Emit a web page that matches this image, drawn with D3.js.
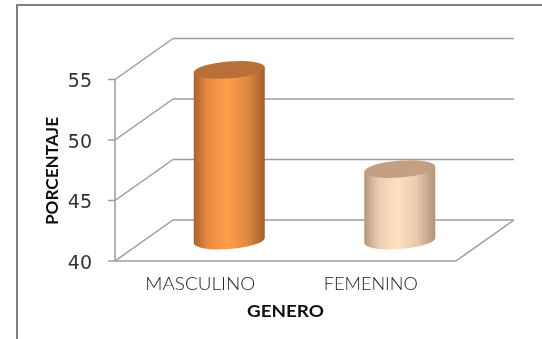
<!DOCTYPE html>
<html><head><meta charset="utf-8">
<script src="https://cdnjs.cloudflare.com/ajax/libs/d3/7.8.5/d3.min.js"></script>
<style>html,body{margin:0;padding:0;background:#fff}svg{display:block}</style>
</head><body><div id="c"></div>
<script>
const categories = ["MASCULINO", "FEMENINO"];
const values = [54.1, 45.9];
const yTicks = [40, 45, 50, 55];
const sideColors = [["#A9622C", "#E98C42", "#FF9E4A", "#E08A42", "#A45E2A"], ["#B39780", "#EBCDB0", "#FFE1C2", "#E6C8AC", "#AF9278"]];
const topColors = ["#B96F38", "#C3A083"];
const xTitle = "GENERO";
const yTitle = "PORCENTAJE";

const W = 542, H = 339, dx = 58, dy = -41, grid = "#9c9c9c";
const svg = d3.select("#c").append("svg").attr("width", W).attr("height", H);
const defs = svg.append("defs");
defs.append("filter").attr("id", "soft").append("feGaussianBlur").attr("stdDeviation", 0.35);
const y = d3.scaleLinear().domain([40, 55]).range([261, 79.5]);
const x = d3.scaleBand().domain(categories).range([115, 456]);
const ff = "'DejaVu Sans', sans-serif", ft = "Lato, sans-serif";

const root = svg.append("g").attr("filter", "url(#soft)");
root.append("rect").attr("x", 17).attr("y", 5).attr("width", 560).attr("height", 360)
  .attr("fill", "#fff").attr("stroke", "#808080").attr("stroke-width", 2);

const g = root.append("g").attr("fill", "none").attr("stroke", grid).attr("stroke-width", 1.5);
yTicks.forEach(t => {
  g.append("line").attr("x1", 115 + dx).attr("x2", 456 + dx).attr("y1", y(t) + dy).attr("y2", y(t) + dy);
  g.append("line").attr("x1", 115).attr("x2", 115 + dx).attr("y1", y(t)).attr("y2", y(t) + dy);
  g.append("line").attr("x1", 108).attr("x2", 115).attr("y1", y(t)).attr("y2", y(t));
});
g.append("line").attr("x1", 115).attr("x2", 115).attr("y1", y(40)).attr("y2", y(55));
g.append("line").attr("x1", 115).attr("x2", 456).attr("y1", y(40)).attr("y2", y(40));
g.append("line").attr("x1", 456).attr("x2", 456 + dx).attr("y1", y(40)).attr("y2", y(40) + dy);

const hw = 35.5, ry = 8.5, tilt = -4.5;
categories.forEach((c, i) => {
  const cx = x(c) + x.bandwidth() / 2 + dx / 2;
  const base = y(40) + dy / 2, top = y(values[i]) + dy / 2;
  const gr = defs.append("linearGradient").attr("id", "side" + i);
  [0, 0.2, 0.47, 0.75, 1].forEach((o, k) => gr.append("stop")
    .attr("offset", o).attr("stop-color", sideColors[i][k]));
  const slope = Math.tan(tilt * Math.PI / 180) * hw;
  const a = 35.6, b = ry;
  const bar = root.append("g");
  bar.append("path").attr("d",
    `M${cx - hw},${top - slope} L${cx + hw},${top + slope} L${cx + hw},${base + slope} ` +
    `A${a},${b} ${tilt} 0 1 ${cx - hw},${base - slope} Z`)
    .attr("fill", `url(#side${i})`);
  bar.append("ellipse").attr("cx", cx).attr("cy", top).attr("rx", a).attr("ry", b)
    .attr("transform", `rotate(${tilt} ${cx} ${top})`).attr("fill", topColors[i]);
});

root.append("g").selectAll("text").data(yTicks).join("text")
  .attr("x", 92).attr("y", d => y(d) + 7.5).attr("text-anchor", "end")
  .attr("font-family", ff).attr("font-size", 19).attr("fill", "#333")
  .text(d => d);

root.append("g").selectAll("text").data(categories).join("text")
  .attr("x", d => x(d) + x.bandwidth() / 2).attr("y", 290).attr("text-anchor", "middle")
  .attr("font-family", ft).attr("font-weight", 300).attr("font-size", 17.5).attr("fill", "#222")
  .attr("textLength", (d, i) => i === 0 ? 110 : 94).attr("lengthAdjust", "spacingAndGlyphs").text(d => d);

root.append("text").attr("x", 285.5).attr("y", 317).attr("text-anchor", "middle")
  .attr("font-family", ft).attr("font-weight", 700).attr("font-size", 17).attr("fill", "#111")
  .attr("textLength", 77).attr("lengthAdjust", "spacingAndGlyphs").text(xTitle);
root.append("text").attr("transform", "translate(58,171) rotate(-90)").attr("text-anchor", "middle")
  .attr("font-family", ft).attr("font-weight", 700).attr("font-size", 17).attr("fill", "#111")
  .attr("textLength", 108).attr("lengthAdjust", "spacingAndGlyphs").text(yTitle);
</script></body></html>
